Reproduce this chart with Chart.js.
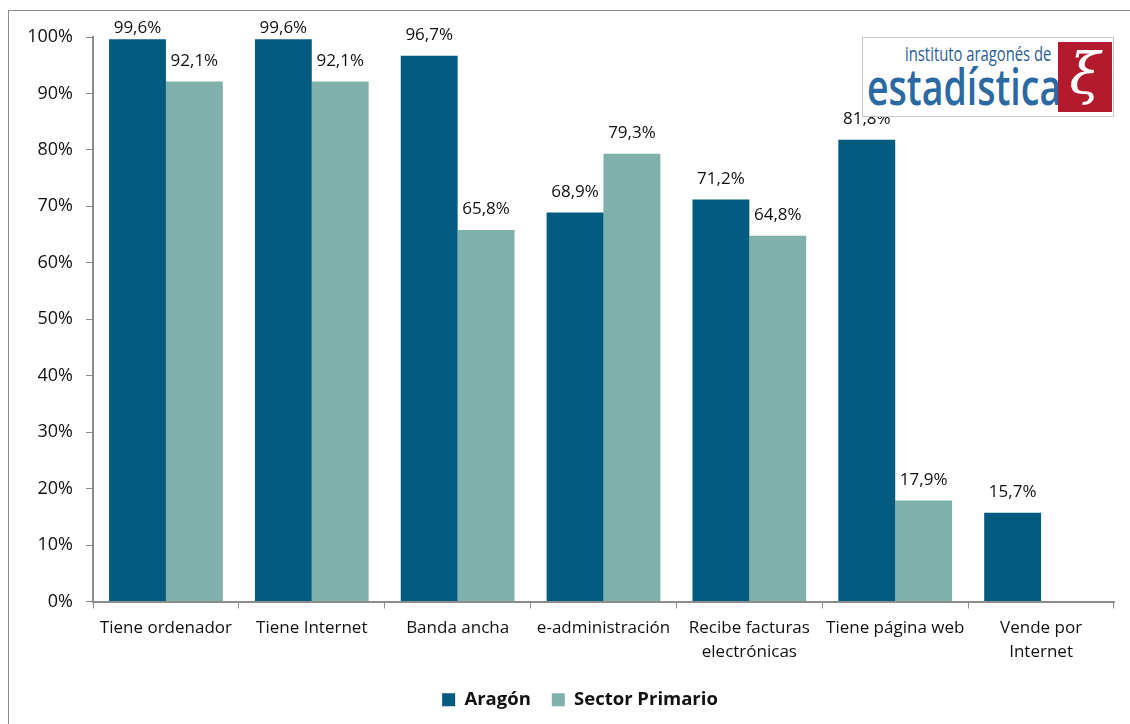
<!DOCTYPE html>
<html>
<head>
<meta charset="utf-8">
<script src="https://cdn.jsdelivr.net/npm/chart.js@4/dist/chart.umd.min.js"></script>
<style>
  body { margin: 0; background: #fff; }
  #wrap { position: relative; width: 1130px; height: 724px; overflow: hidden; }
  #frame { position: absolute; left: 8px; top: 10px; width: 1200px; height: 800px;
           border-top: 1px solid #8a8a8a; border-left: 1px solid #8a8a8a; }
  #logo { position: absolute; left: 862px; top: 37px; width: 252px; height: 80px;
          background: #fff; border: 1px solid #c8c8c8; box-sizing: border-box; overflow: hidden; }
  #logo .small { position: absolute; left: 42px; top: 2px; font: 20px "Open Sans", sans-serif;
                 color: #2a5d92; transform: scaleX(0.74); transform-origin: left top; white-space: nowrap; }
  #logo .big { position: absolute; left: 4px; top: 14px; font: 600 50px "Open Sans", sans-serif;
               color: #2b69a3; transform: scaleX(0.75); transform-origin: left top; white-space: nowrap; }
  #logo .red { position: absolute; left: 195px; top: 4px; width: 54px; height: 70px; background: #b31a2e;
               color: #fff; font: italic 56px "DejaVu Serif", serif; text-align: center; line-height: 64px; }
</style>
</head>
<body>
<div id="wrap">
  <div id="frame"></div>
  <canvas id="chart" width="1130" height="724"></canvas>
  <div id="logo">
    <div class="small">instituto aragonés de</div>
    <div class="big">estadística</div>
    <div class="red">ξ</div>
  </div>
</div>
<script>
// ---------------------------------------
// DATA
// ---------------------------------------
const categories = [
  "Tiene ordenador",
  "Tiene Internet",
  "Banda ancha",
  "e-administración",
  ["Recibe facturas", "electrónicas"],
  "Tiene página web",
  ["Vende por", "Internet"]
];
const aragon = [99.6, 99.6, 96.7, 68.9, 71.2, 81.8, 15.7];
const sectorPrimario = [92.1, 92.1, 65.8, 79.3, 64.8, 17.9, null];
const yTicks = [0, 10, 20, 30, 40, 50, 60, 70, 80, 90, 100];

const FONT = "'Open Sans'";
const AXIS = "#8c8c8c";

// value labels above bars (kept inside the top of the plot, like Excel)
const barLabels = {
  id: "barLabels",
  afterDatasetsDraw(chart) {
    const ctx = chart.ctx;
    ctx.save();
    ctx.font = "17px " + FONT;
    ctx.fillStyle = "#111";
    ctx.textAlign = "center";
    ctx.textBaseline = "bottom";
    chart.data.datasets.forEach((ds, i) => {
      chart.getDatasetMeta(i).data.forEach((bar, j) => {
        const v = ds.data[j];
        if (v == null) return;
        const y = Math.max(bar.y - 12, chart.chartArea.top);
        ctx.fillText(v.toFixed(1).replace(".", ",") + "%", bar.x, y);
      });
    });
    ctx.restore();
  }
};

// legend sits a bit right of centre in the original
const legendShift = {
  id: "legendShift",
  afterLayout(chart) {
    chart.legend.left += 19;
    chart.legend.right += 19;
  }
};

new Chart(document.getElementById("chart").getContext("2d"), {
  type: "bar",
  data: {
    labels: categories,
    datasets: [
      { label: "Aragón", data: aragon, backgroundColor: "#035b80", borderWidth: 0 },
      { label: "Sector Primario", data: sectorPrimario, backgroundColor: "#80b0aa", borderWidth: 0 }
    ]
  },
  options: {
    responsive: false,
    animation: false,
    categoryPercentage: 0.78,
    barPercentage: 1,
    layout: { padding: { top: 37, left: 8, right: 16, bottom: 5 } },
    plugins: {
      legend: {
        position: "bottom",
        labels: {
          font: { family: FONT, size: 18.5, weight: "bold" },
          color: "#111",
          boxWidth: 13,
          boxHeight: 13,
          padding: 21
        }
      },
      tooltip: { enabled: false }
    },
    scales: {
      x: {
        grid: { offset: true, drawOnChartArea: false, tickLength: 7, color: AXIS },
        border: { color: AXIS, width: 2 },
        ticks: {
          font: { family: FONT, size: 17, lineHeight: 1.4 },
          color: "#111",
          padding: 8,
          maxRotation: 0,
          autoSkip: false
        },
        afterFit: s => { s.height = 68; }
      },
      y: {
        min: 0,
        max: 100,
        afterBuildTicks: s => { s.ticks = yTicks.map(v => ({ value: v })); },
        grid: { drawOnChartArea: false, tickLength: 7, color: AXIS },
        border: { color: AXIS, width: 2 },
        ticks: {
          font: { family: FONT, size: 18 },
          color: "#111",
          padding: 13,
          callback: v => v + "%"
        },
        afterFit: s => { s.width = 85; }
      }
    }
  },
  plugins: [barLabels, legendShift]
});
</script>
</body>
</html>
